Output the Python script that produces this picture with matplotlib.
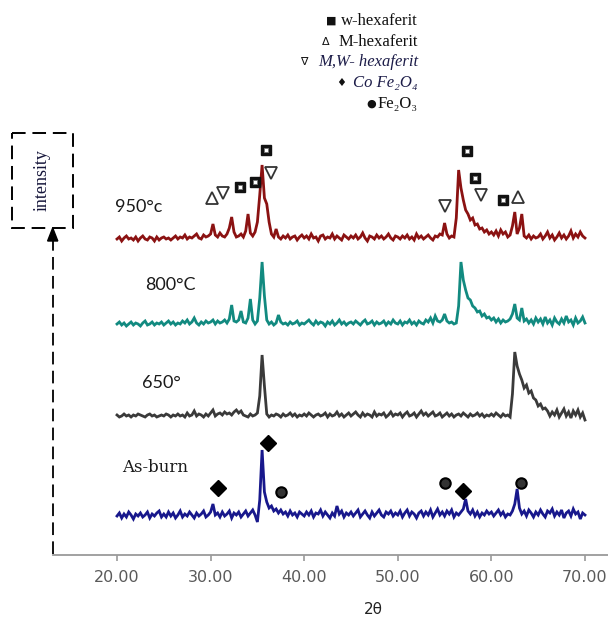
import numpy as np
import matplotlib
matplotlib.use("Agg")
import matplotlib.pyplot as plt
from matplotlib.patches import Rectangle, Polygon

# ---------------- data ----------------
two_theta = 20.0 + 0.25 * np.arange(201)          # scan grid 20–70°

i_950 = [1,3,-1,2,4,1,2,0,3,-1,2,4,1,0,3,2,-1,3,0,2,
         3,1,2,0,2,4,1,3,2,5,1,3,2,4,6,2,1,5,3,4,
         6,16,5,3,7,4,3,6,12,23,8,3,4,6,3,9,26,7,4,8,
         18,45,75,42,36,18,6,3,11,3,1,4,2,5,1,3,4,0,3,5,
         2,4,1,6,2,3,-1,4,5,1,3,2,6,1,4,2,0,5,3,1,
         4,2,5,1,3,7,2,-1,4,3,1,5,2,4,1,3,6,2,0,4,
         3,1,4,2,5,1,3,0,6,2,4,1,3,5,2,0,4,3,6,5,
         17,6,2,4,3,22,70,52,40,30,26,20,22,15,16,11,12,8,10,6,
         8,5,9,4,10,6,8,3,5,14,28,6,12,26,4,2,5,1,4,2,
         3,6,1,4,8,2,5,0,3,7,2,5,1,4,9,2,6,3,8,4,
         2]

i_800 = [2,4,1,3,0,2,4,1,3,2,0,3,5,1,2,4,1,3,2,4,
         1,3,5,2,4,1,3,2,5,3,6,2,4,8,3,1,4,2,5,3,
         4,6,2,5,3,4,6,3,7,21,5,4,6,15,4,3,8,27,6,2,
         5,28,64,30,6,2,4,1,3,11,4,2,3,1,4,2,3,5,1,3,
         2,4,6,3,1,5,2,4,3,0,4,2,5,1,3,6,2,4,1,3,
         4,2,5,3,1,4,6,2,3,5,1,4,2,3,5,1,4,2,6,3,
         2,5,1,4,3,6,2,4,1,5,3,2,6,4,8,3,10,5,4,6,
         12,5,3,4,2,3,20,64,46,36,28,26,20,18,14,15,10,12,8,9,
         6,8,4,7,3,6,4,5,7,12,22,8,6,18,5,7,3,6,2,8,
         4,7,2,9,3,6,1,8,4,2,7,3,10,4,6,1,8,3,5,9,
         3]

i_650 = [3,1,2,4,2,3,1,3,2,4,3,2,1,3,4,2,3,1,2,3,
         2,4,3,1,3,2,4,2,3,1,5,2,3,7,2,4,3,1,4,2,
         5,8,2,4,5,3,6,4,5,3,6,8,5,7,3,2,1,4,2,3,
         5,22,63,32,4,1,3,2,4,3,1,4,2,3,5,2,4,1,3,2,
         4,2,5,3,1,3,4,2,3,5,1,4,2,3,6,2,4,1,3,5,
         2,4,6,3,1,5,2,4,3,1,6,2,4,3,5,1,3,6,2,4,
         3,5,1,4,6,2,3,5,1,4,7,3,5,2,4,6,2,3,5,1,
         3,5,2,4,1,3,4,2,5,3,1,4,2,3,5,2,4,1,3,2,
         4,2,5,3,1,4,2,3,1,24,66,52,44,38,30,33,25,27,20,18,
         12,14,9,10,7,2,6,3,8,1,5,9,2,6,0,7,3,8,1,5,
         -2]

i_asburn = [2,5,0,4,1,6,3,-1,4,2,5,1,3,6,0,4,2,5,7,1,
            4,1,6,2,5,0,3,7,1,4,2,6,3,0,5,2,4,7,1,3,
            6,14,3,5,1,6,2,4,7,0,5,3,6,1,4,7,2,5,8,3,
            -4,18,68,26,16,10,12,7,9,5,8,4,6,2,7,3,5,1,6,4,
            2,6,3,7,1,5,4,8,2,6,3,0,5,2,12,4,7,1,5,3,
            6,2,5,8,1,4,7,3,0,6,2,5,8,3,1,6,4,7,2,5,
            3,7,1,5,8,2,6,4,0,5,7,2,6,3,8,1,5,9,3,6,
            2,7,4,8,1,5,3,6,9,19,7,4,8,2,6,1,5,3,7,4,
            6,2,5,8,3,6,1,4,3,7,14,29,10,4,7,2,8,5,1,6,
            3,8,4,1,7,5,9,2,6,3,8,0,5,7,2,9,4,6,-1,5,
            3]

series_names = ["950°c", "800°C", "650°", "As-burn"]
x_ticks = [20, 30, 40, 50, 60, 70]
x_tick_labels = ["20.00", "30.00", "40.00", "50.00", "60.00", "70.00"]

# phase markers on the 950 °C pattern (2θ, height above that pattern's baseline)
w_hex_pos = [35.9, 34.7, 33.1, 57.4, 58.25, 61.2]
w_hex_h   = [90, 58, 53, 89, 62, 40]
m_hex_pos = [30.1, 62.8]
m_hex_h   = [42, 43]
mw_hex_pos = [36.4, 31.3, 55.0, 58.9]
mw_hex_h   = [67, 47, 34, 45]
# phase markers on the as-burn pattern
cofe_pos = [36.1, 30.8, 57.0]
cofe_h   = [75, 30, 27]
fe2o3_pos = [37.5, 55.0, 63.2]
fe2o3_h   = [26, 35, 35]

legend_items = ["w-hexaferit", "M-hexaferit", "M,W- hexaferit",
                "Co Fe\u2082O\u2084", "Fe\u2082O\u2083"]

# ---------------- layout / style ----------------
W, H = 608, 618
fig = plt.figure(figsize=(W / 100, H / 100), dpi=100)
fig.patch.set_facecolor("white")

ax = fig.add_axes([53 / W, (H - 555) / H, 555 / W, 555 / H])
ax.set_xlim(13.16, 72.46)
ax.set_ylim(0, 555)
ax.patch.set_alpha(0)

offsets = [315, 229, 137, 37]
colors = ["#8B1212", "#128A80", "#3A3A3A", "#18188C"]
series = [i_950, i_800, i_650, i_asburn]
for vals, off, col in zip(series, offsets, colors):
    ax.plot(two_theta, np.asarray(vals) + off, color=col, lw=2.0, zorder=2,
            solid_joinstyle="miter")

for sp in ["top", "right", "left"]:
    ax.spines[sp].set_visible(False)
ax.spines["bottom"].set_color("#9a9a9a")
ax.spines["bottom"].set_linewidth(1.3)
ax.set_yticks([])
ax.set_xticks(x_ticks)
ax.set_xticklabels(x_tick_labels)
ax.tick_params(axis="x", direction="out", length=4, width=1.2, colors="#9a9a9a",
               labelcolor="#5a5a5a", labelsize=11.5, pad=7)

# series labels
lab_pos = [(19.75, 348), (22.97, 270), (22.64, 172), (20.5, 88)]
for name, (lx, ly) in zip(series_names, lab_pos):
    if name == "As-burn":
        ax.text(lx, ly, name, fontsize=12, family=["DejaVu Serif"], color="#1a1a1a",
                va="center", ha="left")
    else:
        ax.text(lx, ly, name, fontsize=13, family=["Lato", "DejaVu Sans"], color="#1a1a1a",
                va="center", ha="left")

# phase markers
o950, oab = offsets[0], offsets[3]
ax.plot(w_hex_pos, np.asarray(w_hex_h) + o950, ls="none", marker="s", ms=7,
        mfc="#111111", mec="#111111", zorder=5)
ax.plot(w_hex_pos, np.asarray(w_hex_h) + o950, ls="none", marker="s", ms=2.8,
        mfc="white", mec="#777777", mew=0.6, zorder=6)
ax.plot(m_hex_pos, np.asarray(m_hex_h) + o950, ls="none", marker="^", ms=9,
        mfc="white", mec="#333333", mew=1.3, zorder=5)
ax.plot(mw_hex_pos, np.asarray(mw_hex_h) + o950, ls="none", marker="v", ms=9,
        mfc="white", mec="#333333", mew=1.3, zorder=5)
ax.plot(cofe_pos, np.asarray(cofe_h) + oab, ls="none", marker="D", ms=8,
        mfc="black", mec="black", zorder=5)
ax.plot(fe2o3_pos, np.asarray(fe2o3_h) + oab, ls="none", marker="o", ms=7.5,
        mfc="#333333", mec="black", mew=1.5, zorder=5)

# ---------------- overlay (pixel coordinates) ----------------
ov = fig.add_axes([0, 0, 1, 1])
ov.set_xlim(0, W)
ov.set_ylim(H, 0)
ov.axis("off")

ov.add_patch(Rectangle((12, 133), 61, 95, fill=False, ec="black", lw=1.4,
                       ls=(0, (7, 3.5))))
ov.text(42, 180, "intensity", rotation=90, ha="center", va="center",
        fontsize=13, family=["Liberation Serif", "DejaVu Serif"], color="#15153a")
ov.plot([52.7, 52.7], [554, 240], color="black", lw=1.3, ls=(0, (7, 3.5)))
ov.add_patch(Polygon([(52.7, 228), (47.6, 241), (57.8, 241)], closed=True,
                     fc="black", ec="black"))

ov.text(373, 609, "2θ", ha="center", va="center", fontsize=11,
        family=["DejaVu Sans"], color="#222222")

# legend text block
leg_y = [21, 42, 62, 83, 104]
leg_sym = ["\u25A0", "\u0394", "\u2207", "\u2666", "\u25CF"]
leg_sym_x = [331, 326, 304, 341, 371]
leg_style = ["normal", "normal", "italic", "italic", "normal"]
leg_col = ["#111111", "#111111", "#1c1c48", "#1c1c48", "#111111"]
for txt, y, sym, sx, st, c in zip(legend_items, leg_y, leg_sym, leg_sym_x, leg_style, leg_col):
    ov.text(418, y, txt, ha="right", va="center", fontsize=12, style=st, color=c,
            family=["Liberation Serif", "DejaVu Serif"])
    ov.text(sx, y, sym, ha="center", va="center", fontsize=8, color="#111111",
            family=["DejaVu Sans"])

fig.savefig("out.png", dpi=100)
